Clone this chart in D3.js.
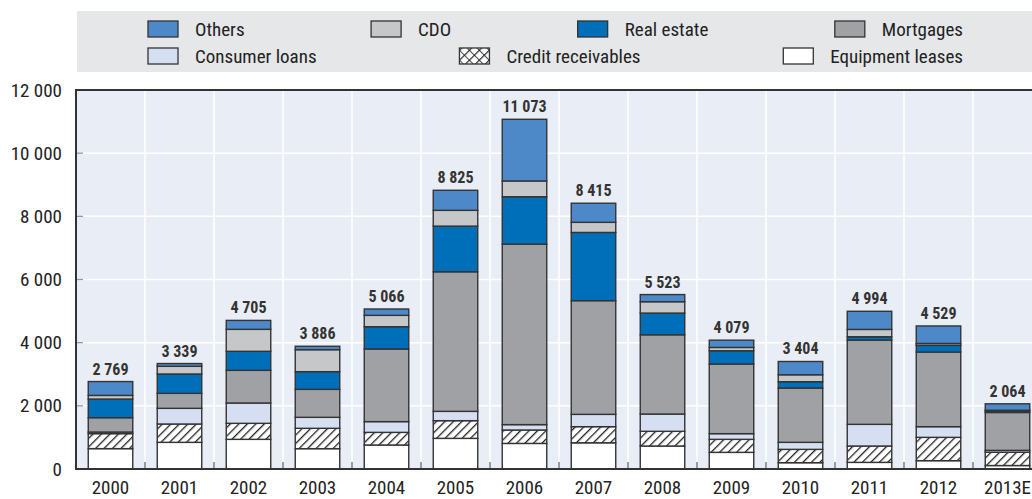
<!DOCTYPE html>
<html>
<head>
<meta charset="utf-8">
<script src="https://cdn.jsdelivr.net/npm/d3@7"></script>
<style>
  body { margin: 0; background: #fff; }
  svg { display: block; font-family: "Liberation Sans Narrow", "Arial Narrow", "Roboto Condensed", sans-serif; }
</style>
</head>
<body>
<div id="vis"></div>
<script>
const years = ["2000", "2001", "2002", "2003", "2004", "2005", "2006", "2007", "2008", "2009", "2010", "2011", "2012", "2013E"];

// stacked from the bottom up
const equipmentLeases   = [645, 844, 939, 644, 760, 970, 810, 830, 728, 527, 200, 210, 264, 110];
const creditReceivables = [475, 581, 507, 644, 400, 560, 425, 510, 465, 412, 422, 518, 738, 420];
const consumerLoans     = [50, 496, 644, 348, 340, 295, 170, 390, 547, 180, 222, 686, 338, 60];
const mortgages         = [455, 475, 1034, 886, 2300, 4420, 5715, 3600, 2510, 2205, 1720, 2668, 2363, 1200];
const realEstate        = [590, 612, 602, 560, 705, 1445, 1500, 2160, 687, 420, 200, 106, 211, 50];
const cdo               = [115, 243, 696, 696, 360, 500, 500, 320, 360, 105, 220, 232, 60, 20];
const others            = [439, 88, 283, 108, 201, 635, 1953, 605, 226, 230, 420, 574, 555, 204];

const totals = [2769, 3339, 4705, 3886, 5066, 8825, 11073, 8415, 5523, 4079, 3404, 4994, 4529, 2064];
const yTicks = [0, 2000, 4000, 6000, 8000, 10000, 12000];

const series = [
  { key: "Equipment leases", values: equipmentLeases, fill: "#ffffff" },
  { key: "Credit receivables", values: creditReceivables, fill: "url(#hatch)" },
  { key: "Consumer loans", values: consumerLoans, fill: "#d6dff1" },
  { key: "Mortgages", values: mortgages, fill: "#a0a1a5" },
  { key: "Real estate", values: realEstate, fill: "#006fb9" },
  { key: "CDO", values: cdo, fill: "#c6c7c9" },
  { key: "Others", values: others, fill: "#4d88c8" }
];
const legendRows = [
  ["Others", "CDO", "Real estate", "Mortgages"],
  ["Consumer loans", "Credit receivables", "Equipment leases"]
];

const W = 1032, H = 499;
const plot = { left: 76, top: 90, bottom: 469 };
const step = 69;
const fmt = v => d3.format(",")(v).replace(/,/g, " ");

const svg = d3.select("#vis").append("svg")
  .attr("width", W)
  .attr("height", H);

const defs = svg.append("defs");
const hatch = defs.append("pattern")
  .attr("id", "hatch")
  .attr("patternUnits", "userSpaceOnUse")
  .attr("width", 6).attr("height", 6)
  .attr("patternTransform", "rotate(45)");
hatch.append("rect").attr("width", 6).attr("height", 6).attr("fill", "#fff");
hatch.append("line").attr("x1", 0).attr("y1", 0).attr("x2", 0).attr("y2", 6)
  .attr("stroke", "#222").attr("stroke-width", 2.6);

// legend swatch uses a cross-hatch
const cross = defs.append("pattern")
  .attr("id", "cross")
  .attr("patternUnits", "userSpaceOnUse")
  .attr("width", 7).attr("height", 7)
  .attr("patternTransform", "rotate(45)");
cross.append("rect").attr("width", 7).attr("height", 7).attr("fill", "#fff");
cross.append("line").attr("x1", 0).attr("y1", 0).attr("x2", 0).attr("y2", 7)
  .attr("stroke", "#222").attr("stroke-width", 2.4);
cross.append("line").attr("x1", 0).attr("y1", 0).attr("x2", 7).attr("y2", 0)
  .attr("stroke", "#222").attr("stroke-width", 1.6);

const x = d3.scaleBand()
  .domain(years)
  .range([plot.left, plot.left + step * years.length])
  .paddingInner(0.355)
  .paddingOuter(0.1775);

const y = d3.scaleLinear()
  .domain([0, 12000])
  .range([plot.bottom, plot.top]);

// legend
const legend = svg.append("g");
legend.append("rect")
  .attr("x", plot.left + 1).attr("y", 11)
  .attr("width", W - plot.left).attr("height", 61)
  .attr("fill", "#e6e7e9");

const legStart = 148, legEnd = 963, sw = 30, gapText = 17;
legendRows.forEach((row, ri) => {
  const cy = 29 + ri * 27;
  const items = row.map(name => {
    const g = legend.append("g");
    const s = series.find(d => d.key === name);
    g.append("rect")
      .attr("x", 0).attr("y", cy - 8)
      .attr("width", sw).attr("height", 16)
      .attr("fill", name === "Credit receivables" ? "url(#cross)" : s.fill)
      .attr("stroke", "#333").attr("stroke-width", 1.3);
    const t = g.append("text")
      .attr("x", sw + gapText).attr("y", cy)
      .attr("dy", "0.35em")
      .attr("font-size", 19)
      .attr("fill", "#222")
      .text(name);
    return { g, w: sw + gapText + t.node().getComputedTextLength() };
  });
  const total = d3.sum(items, d => d.w);
  const gap = (legEnd - legStart - total) / (items.length - 1);
  let pos = legStart;
  items.forEach(it => {
    it.g.attr("transform", `translate(${pos},0)`);
    pos += it.w + gap;
  });
});

// plot background and grid
svg.append("rect")
  .attr("x", plot.left).attr("y", plot.top)
  .attr("width", W - plot.left).attr("height", plot.bottom - plot.top)
  .attr("fill", "#e9edf6");

svg.append("g")
  .selectAll("line")
  .data(yTicks.slice(1, -1))
  .join("line")
  .attr("x1", plot.left).attr("x2", W)
  .attr("y1", d => y(d)).attr("y2", d => y(d))
  .attr("stroke", "#fff").attr("stroke-width", 1.5);

const bounds = years.slice(1).map(d => x(d) - x.step() * x.paddingInner() / 2);
svg.append("g")
  .selectAll("line")
  .data(bounds)
  .join("line")
  .attr("x1", d => d).attr("x2", d => d)
  .attr("y1", plot.top).attr("y2", plot.bottom)
  .attr("stroke", "#fff").attr("stroke-width", 1.5);

// small ticks
svg.append("g")
  .selectAll("line")
  .data(bounds)
  .join("line")
  .attr("x1", d => d).attr("x2", d => d)
  .attr("y1", plot.bottom - 7).attr("y2", plot.bottom)
  .attr("stroke", "#666").attr("stroke-width", 1.3);

svg.append("g")
  .selectAll("line")
  .data(yTicks.slice(1, -1))
  .join("line")
  .attr("x1", plot.left).attr("x2", plot.left + 7)
  .attr("y1", d => y(d)).attr("y2", d => y(d))
  .attr("stroke", "#999").attr("stroke-width", 1.3);

// bars
const table = years.map((yr, i) => {
  const row = { year: yr };
  series.forEach(s => { row[s.key] = s.values[i]; });
  return row;
});
const stack = d3.stack().keys(series.map(s => s.key))(table);

svg.append("g")
  .selectAll("g")
  .data(stack)
  .join("g")
  .attr("fill", (d, i) => series[i].fill)
  .selectAll("rect")
  .data(d => d)
  .join("rect")
  .attr("x", d => x(d.data.year))
  .attr("width", x.bandwidth())
  .attr("y", d => y(d[1]))
  .attr("height", d => y(d[0]) - y(d[1]))
  .attr("stroke", "#333")
  .attr("stroke-width", 1.4);

// totals
svg.append("g")
  .selectAll("text")
  .data(years)
  .join("text")
  .attr("x", d => x(d) + x.bandwidth() / 2)
  .attr("y", (d, i) => y(totals[i]) - 7)
  .attr("text-anchor", "middle")
  .attr("font-size", 16)
  .attr("font-weight", "bold")
  .attr("fill", "#333")
  .text((d, i) => fmt(totals[i]));

// frame
svg.append("path")
  .attr("d", `M${W},${plot.top}H${plot.left}V${plot.bottom}H${W}`)
  .attr("fill", "none")
  .attr("stroke", "#333")
  .attr("stroke-width", 2);

// axes labels
svg.append("g")
  .selectAll("text")
  .data(yTicks)
  .join("text")
  .attr("x", plot.left - 14)
  .attr("y", d => y(d))
  .attr("dy", "0.35em")
  .attr("text-anchor", "end")
  .attr("font-size", 19)
  .attr("fill", "#222")
  .text(fmt);

svg.append("g")
  .selectAll("text")
  .data(years)
  .join("text")
  .attr("x", d => x(d) + x.bandwidth() / 2)
  .attr("y", 487)
  .attr("dy", "0.35em")
  .attr("text-anchor", "middle")
  .attr("font-size", 19)
  .attr("fill", "#222")
  .text(d => d);
</script>
</body>
</html>
